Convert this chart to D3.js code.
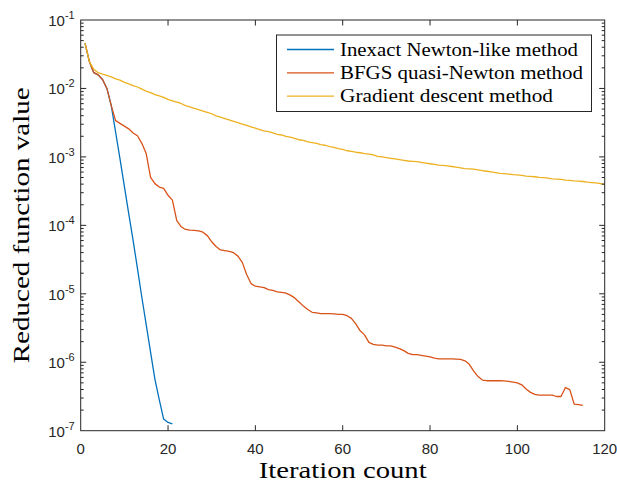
<!DOCTYPE html>
<html>
<head>
<meta charset="utf-8">
<script src="https://cdn.jsdelivr.net/npm/d3@7"></script>
<style>
  body { margin: 0; background: #fff; }
  svg { display: block; }
</style>
</head>
<body>
<div id="chart"></div>
<script>
// reduced function value per iteration
const newtonValues = [
  4.57e-2, 2.45e-2, 1.70e-2, 1.58e-2, 1.35e-2, 1.00e-2, 5.62e-3, 2.29e-3, 9.33e-4, 3.72e-4,
  1.48e-4, 6.03e-5, 2.34e-5, 8.91e-6, 3.55e-6, 1.41e-6, 5.62e-7, 2.82e-7, 1.48e-7, 1.32e-7,
  1.26e-7
];

const bfgsValues = [
  4.57e-2, 2.45e-2, 1.70e-2, 1.58e-2, 1.35e-2, 1.00e-2, 5.62e-3, 3.39e-3, 3.09e-3, 2.82e-3,
  2.57e-3, 2.24e-3, 2.04e-3, 1.58e-3, 1.12e-3, 5.01e-4, 4.07e-4, 3.63e-4, 3.47e-4, 2.75e-4,
  2.34e-4, 1.17e-4, 9.55e-5, 8.71e-5, 8.51e-5, 8.45e-5, 8.32e-5, 7.94e-5, 7.08e-5, 5.75e-5,
  4.90e-5, 4.37e-5, 4.27e-5, 4.17e-5, 3.98e-5, 3.55e-5, 2.88e-5, 1.91e-5, 1.41e-5, 1.29e-5,
  1.26e-5, 1.23e-5, 1.15e-5, 1.12e-5, 1.07e-5, 1.05e-5, 1.02e-5, 9.55e-6, 8.71e-6, 7.59e-6,
  6.61e-6, 5.89e-6, 5.37e-6, 5.25e-6, 5.13e-6, 5.13e-6, 5.13e-6, 5.10e-6, 5.01e-6, 5.01e-6,
  4.79e-6, 4.37e-6, 3.63e-6, 2.88e-6, 2.51e-6, 1.95e-6, 1.82e-6, 1.78e-6, 1.78e-6, 1.74e-6,
  1.74e-6, 1.66e-6, 1.58e-6, 1.48e-6, 1.35e-6, 1.29e-6, 1.29e-6, 1.26e-6, 1.23e-6, 1.20e-6,
  1.15e-6, 1.12e-6, 1.12e-6, 1.12e-6, 1.12e-6, 1.11e-6, 1.10e-6, 1.05e-6, 9.33e-7, 7.41e-7,
  6.17e-7, 5.50e-7, 5.37e-7, 5.37e-7, 5.37e-7, 5.37e-7, 5.33e-7, 5.25e-7, 5.13e-7, 5.01e-7,
  4.68e-7, 4.07e-7, 3.63e-7, 3.39e-7, 3.31e-7, 3.31e-7, 3.31e-7, 3.31e-7, 3.16e-7, 3.16e-7,
  4.27e-7, 3.98e-7, 2.45e-7, 2.40e-7, 2.34e-7
];

const gradientValues = [
  4.57e-2, 2.45e-2, 1.91e-2, 1.70e-2, 1.62e-2, 1.55e-2, 1.48e-2, 1.38e-2, 1.32e-2, 1.23e-2,
  1.17e-2, 1.10e-2, 1.05e-2, 9.77e-3, 9.12e-3, 8.71e-3, 8.13e-3, 7.76e-3, 7.41e-3, 6.92e-3,
  6.61e-3, 6.31e-3, 6.03e-3, 5.62e-3, 5.37e-3, 5.13e-3, 4.90e-3, 4.68e-3, 4.47e-3, 4.27e-3,
  3.98e-3, 3.80e-3, 3.63e-3, 3.47e-3, 3.31e-3, 3.16e-3, 3.02e-3, 2.88e-3, 2.75e-3, 2.63e-3,
  2.51e-3, 2.40e-3, 2.34e-3, 2.24e-3, 2.14e-3, 2.09e-3, 2.00e-3, 1.95e-3, 1.86e-3, 1.78e-3,
  1.74e-3, 1.66e-3, 1.62e-3, 1.58e-3, 1.51e-3, 1.48e-3, 1.41e-3, 1.38e-3, 1.32e-3, 1.29e-3,
  1.23e-3, 1.20e-3, 1.17e-3, 1.15e-3, 1.12e-3, 1.10e-3, 1.07e-3, 1.02e-3, 1.00e-3, 9.77e-4,
  9.55e-4, 9.33e-4, 9.12e-4, 8.91e-4, 8.71e-4, 8.60e-4, 8.51e-4, 8.32e-4, 8.13e-4, 7.94e-4,
  7.76e-4, 7.59e-4, 7.50e-4, 7.41e-4, 7.24e-4, 7.08e-4, 6.92e-4, 6.76e-4, 6.70e-4, 6.61e-4,
  6.46e-4, 6.31e-4, 6.17e-4, 6.03e-4, 5.89e-4, 5.75e-4, 5.70e-4, 5.62e-4, 5.50e-4, 5.45e-4,
  5.37e-4, 5.25e-4, 5.20e-4, 5.13e-4, 5.01e-4, 4.97e-4, 4.90e-4, 4.79e-4, 4.75e-4, 4.68e-4,
  4.57e-4, 4.53e-4, 4.47e-4, 4.43e-4, 4.37e-4, 4.27e-4, 4.22e-4, 4.17e-4, 4.07e-4, 3.98e-4
];

const seriesNames = ['Inexact Newton-like method', 'BFGS quasi-Newton method', 'Gradient descent method'];
const seriesColors = ['#0072BD', '#D95319', '#EDB120'];
const xTicks = [0, 20, 40, 60, 80, 100, 120];
const yExponents = [-1, -2, -3, -4, -5, -6, -7];

const width = 617, height = 483;
const margin = { top: 20, right: 12.3, bottom: 52.3, left: 80.7 };
const axisColor = '#262626';

const svg = d3.select('#chart').append('svg')
    .attr('width', width)
    .attr('height', height);

const x = d3.scaleLinear().domain([0, 120]).range([margin.left, width - margin.right]);
const y = d3.scaleLog().domain([1e-7, 1e-1]).range([height - margin.bottom, margin.top]);

const allSeries = [newtonValues, bfgsValues, gradientValues].map((vals, i) => ({
    name: seriesNames[i],
    color: seriesColors[i],
    points: vals.map((v, k) => [k + 1, v])
}));

const plot = svg.append('g');

plot.append('clipPath').attr('id', 'clip')
    .append('rect')
    .attr('x', margin.left).attr('y', margin.top)
    .attr('width', x(120) - x(0)).attr('height', y(1e-7) - y(1e-1));

const line = d3.line().x(d => x(d[0])).y(d => y(d[1]));

// plotted in order, later series on top (as MATLAB does)
plot.selectAll('path.series')
    .data(allSeries)
    .enter()
    .append('path')
    .attr('class', 'series')
    .attr('clip-path', 'url(#clip)')
    .attr('d', d => line(d.points))
    .attr('fill', 'none')
    .attr('stroke', d => d.color)
    .attr('stroke-width', 1.3)
    .attr('stroke-linejoin', 'round');

// axes: ticks inward on all four sides
const minorTicks = [];
for (let e = -7; e < -1; e++) {
    for (let m = 2; m <= 9; m++) minorTicks.push(m * Math.pow(10, e));
}

const axes = svg.append('g').attr('stroke', axisColor).attr('stroke-width', 1);

axes.selectAll('g.xt')
    .data(xTicks.slice(1, -1))
    .enter().append('g')
    .each(function(t) {
        const g = d3.select(this);
        g.append('line').attr('x1', x(t)).attr('x2', x(t)).attr('y1', y(1e-7)).attr('y2', y(1e-7) - 5.5);
        g.append('line').attr('x1', x(t)).attr('x2', x(t)).attr('y1', y(1e-1)).attr('y2', y(1e-1) + 5.5);
    });

axes.selectAll('g.ymaj')
    .data(yExponents.slice(1, -1))
    .enter().append('g')
    .each(function(e) {
        const g = d3.select(this);
        const yy = y(Math.pow(10, e));
        g.append('line').attr('x1', x(0)).attr('x2', x(0) + 5.5).attr('y1', yy).attr('y2', yy);
        g.append('line').attr('x1', x(120)).attr('x2', x(120) - 5.5).attr('y1', yy).attr('y2', yy);
    });

axes.selectAll('g.ymin')
    .data(minorTicks)
    .enter().append('g')
    .each(function(v) {
        const g = d3.select(this);
        const yy = y(v);
        g.append('line').attr('x1', x(0)).attr('x2', x(0) + 3).attr('y1', yy).attr('y2', yy);
        g.append('line').attr('x1', x(120)).attr('x2', x(120) - 3).attr('y1', yy).attr('y2', yy);
    });

axes.append('rect')
    .attr('x', x(0)).attr('y', y(1e-1))
    .attr('width', x(120) - x(0)).attr('height', y(1e-7) - y(1e-1))
    .attr('fill', 'none');

// tick labels
const tickFont = 'Liberation Sans, Arial, sans-serif';

svg.append('g')
    .selectAll('text')
    .data(xTicks)
    .enter().append('text')
    .attr('x', d => x(d))
    .attr('y', y(1e-7) + 23)
    .attr('text-anchor', 'middle')
    .attr('font-family', tickFont)
    .attr('font-size', 15)
    .attr('fill', axisColor)
    .text(d => d);

const yLabels = svg.append('g')
    .selectAll('text')
    .data(yExponents)
    .enter().append('text')
    .attr('x', x(0) - 6)
    .attr('y', d => y(Math.pow(10, d)) + 6)
    .attr('text-anchor', 'end')
    .attr('font-family', tickFont)
    .attr('font-size', 15)
    .attr('fill', axisColor);
yLabels.append('tspan').text('10');
yLabels.append('tspan')
    .attr('dy', -7)
    .attr('font-size', 11)
    .text(d => d);

// axis titles (serif, stretched to the reference's LaTeX widths)
const serif = 'Liberation Serif, Times New Roman, serif';

svg.append('text')
    .attr('x', (x(0) + x(120)) / 2)
    .attr('y', 478)
    .attr('text-anchor', 'middle')
    .attr('font-family', serif)
    .attr('font-size', 24)
    .attr('textLength', 168)
    .attr('lengthAdjust', 'spacingAndGlyphs')
    .attr('fill', '#000')
    .text('Iteration count');

svg.append('text')
    .attr('transform', `translate(29,${(y(1e-1) + y(1e-7)) / 2}) rotate(-90)`)
    .attr('text-anchor', 'middle')
    .attr('font-family', serif)
    .attr('font-size', 24)
    .attr('textLength', 276)
    .attr('lengthAdjust', 'spacingAndGlyphs')
    .attr('fill', '#000')
    .text('Reduced function value');

// legend
const legendWidths = [238, 243, 213];
const legend = svg.append('g');
legend.append('rect')
    .attr('x', 276.5).attr('y', 35)
    .attr('width', 315).attr('height', 76.5)
    .attr('fill', '#fff')
    .attr('stroke', axisColor)
    .attr('stroke-width', 1);

const rows = legend.selectAll('g.row')
    .data(allSeries)
    .enter().append('g')
    .attr('transform', (d, i) => `translate(0,${49.5 + i * 23.3})`);

rows.append('line')
    .attr('x1', 287).attr('x2', 334)
    .attr('y1', 0).attr('y2', 0)
    .attr('stroke', d => d.color)
    .attr('stroke-width', 1.3);

rows.append('text')
    .attr('x', 340)
    .attr('y', 6)
    .attr('font-family', serif)
    .attr('font-size', 19)
    .attr('textLength', (d, i) => legendWidths[i])
    .attr('lengthAdjust', 'spacingAndGlyphs')
    .attr('fill', '#000')
    .text(d => d.name);
</script>
</body>
</html>
